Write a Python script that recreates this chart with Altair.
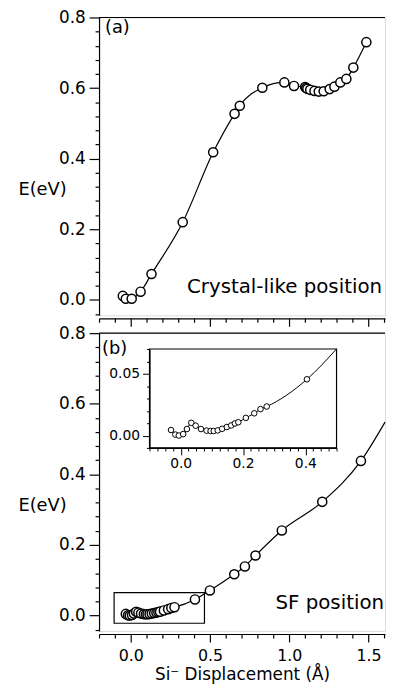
import altair as alt
import pandas as pd

FONT = "DejaVu Sans"

# ---------------- data ----------------
# panel (a): crystal-like position
a_x = [-0.050, -0.031, 0.006, 0.062, 0.131, 0.328, 0.520, 0.655, 0.688, 0.830, 0.969, 1.030,
       1.100, 1.107, 1.114, 1.132, 1.159, 1.186, 1.217, 1.255, 1.285, 1.322, 1.360, 1.404, 1.486]
a_y = [0.011, 0.003, 0.003, 0.023, 0.073, 0.220, 0.418, 0.527, 0.550, 0.601, 0.616, 0.606,
       0.603, 0.600, 0.598, 0.595, 0.592, 0.590, 0.591, 0.597, 0.604, 0.616, 0.626, 0.658, 0.730]

# panel (b): SF position
b_x = [-0.031, -0.017, -0.006, 0.008, 0.020, 0.034, 0.048, 0.065, 0.083, 0.096, 0.106, 0.119,
       0.133, 0.148, 0.162, 0.174, 0.185, 0.209, 0.236, 0.256, 0.276, 0.405, 0.499, 0.653,
       0.720, 0.787, 0.953, 1.208, 1.452]
b_y = [0.0045, 0.0008, 0.0000, 0.0012, 0.0053, 0.0103, 0.0080, 0.0053, 0.0040, 0.0037, 0.0037,
       0.0042, 0.0055, 0.0069, 0.0082, 0.0098, 0.0108, 0.0143, 0.0180, 0.0214, 0.0235, 0.0455,
       0.071, 0.117, 0.139, 0.170, 0.241, 0.322, 0.438]
# where the fitted curve in panel (b) leaves the visible area (line only, no marker)
b_curve_end_x = [1.604]
b_curve_end_y = [0.548]

# zoom frame in panel (b) and inset ranges
zoom_box_x = [-0.105, 0.465]
zoom_box_y = [-0.022, 0.065]
inset_x_domain = [-0.1, 0.5]
inset_y_domain = [-0.01, 0.07]

# axis ticks
x_ticks = [-0.2, -0.1, 0.0, 0.1, 0.2, 0.3, 0.4, 0.5, 0.6, 0.7, 0.8, 0.9, 1.0,
           1.1, 1.2, 1.3, 1.4, 1.5, 1.6]
y_ticks = [-0.04, 0.0, 0.04, 0.08, 0.12, 0.16, 0.2, 0.24, 0.28, 0.32, 0.36, 0.4,
           0.44, 0.48, 0.52, 0.56, 0.6, 0.64, 0.68, 0.72, 0.76, 0.8]
inset_x_ticks = [-0.1, -0.075, -0.05, -0.025, 0.0, 0.025, 0.05, 0.075, 0.1, 0.125, 0.15,
                 0.175, 0.2, 0.225, 0.25, 0.275, 0.3, 0.325, 0.35, 0.375, 0.4, 0.425,
                 0.45, 0.475, 0.5]
inset_y_ticks = [-0.01, 0.0, 0.01, 0.02, 0.03, 0.04, 0.05, 0.06, 0.07]

X_DOMAIN = [-0.2, 1.604]
Y_DOMAIN = [-0.044, 0.8]
W, H = 289, 301
INSET_X_RANGE = [51, 240]
INSET_Y_RANGE = [116, 16]


def is_major(mult):
    return f"abs(datum.value*{mult} - round(datum.value*{mult})) < 0.001"


def x_axis(show_labels):
    kw = dict(
        values=x_ticks, tickCount=len(x_ticks) + 5, orient="bottom", offset=3, grid=False,
        domainColor="black", domainWidth=1.2, tickColor="black", tickWidth=1.2,
        tickSize={"condition": {"test": is_major(2), "value": 8}, "value": 4},
        labelOverlap=False, labelFlush=False,
    )
    if show_labels:
        kw.update(
            labels=True,
            labelExpr=f"{is_major(2)} ? format(datum.value, '.1f') : ''",
            labelFont=FONT, labelFontSize=16, labelColor="black", labelPadding=6,
            title="Si⁻ Displacement (Å)", titleFont=FONT, titleFontSize=17,
            titleFontWeight="normal", titleColor="black", titlePadding=3,
        )
    else:
        kw.update(labels=False, title=None)
    return alt.Axis(**kw)


y_axis = alt.Axis(
    values=y_ticks, tickCount=len(y_ticks) + 5, orient="left", grid=False,
    domainColor="black", domainWidth=1.2, tickColor="black", tickWidth=1.2,
    tickSize={"condition": {"test": is_major(5), "value": 10}, "value": 4},
    labelExpr=f"{is_major(5)} ? format(datum.value, '.1f') : ''",
    labelFont=FONT, labelFontSize=17, labelColor="black", labelPadding=4,
    labelOverlap=False, labelFlush=False,
    title="E(eV)", titleFont=FONT, titleFontSize=18, titleFontWeight="normal",
    titleColor="black", titleAngle=0, titleAlign="left", titleBaseline="middle",
    titleX=-82, titleY=174,
)

x_scale = alt.Scale(domain=X_DOMAIN, nice=False, zero=False)
y_scale = alt.Scale(domain=Y_DOMAIN, nice=False, zero=False)

one_row = pd.DataFrame({"k": [0]})


def top_border():
    return alt.Chart(one_row).mark_rule(color="black", strokeWidth=1.2).encode(
        x=alt.value(0), x2=alt.value(W), y=alt.value(0)
    )


def label(text, x, y, size, align="left"):
    return alt.Chart(pd.DataFrame({"t": [text]})).mark_text(
        align=align, baseline="alphabetic", font=FONT, fontSize=size, color="black"
    ).encode(x=alt.value(x), y=alt.value(y), text="t:N")


# ---------------- panel (a) ----------------
df_a = pd.DataFrame({"x": a_x, "y": a_y})
line_a = alt.Chart(df_a).mark_line(color="black", strokeWidth=1.2, interpolate="monotone").encode(
    x=alt.X("x:Q", scale=x_scale, axis=x_axis(False)),
    y=alt.Y("y:Q", scale=y_scale, axis=y_axis),
)
pts_a = alt.Chart(df_a).mark_circle(
    fill="white", stroke="black", strokeWidth=1.5, size=85, opacity=1
).encode(x=alt.X("x:Q", scale=x_scale), y=alt.Y("y:Q", scale=y_scale))

panel_a = alt.layer(
    line_a, pts_a, top_border(),
    label("(a)", 6, 16, 18),
    label("Crystal-like position", 286, 278, 20, align="right"),
).properties(width=W, height=H)

# ---------------- panel (b) ----------------
df_b = pd.DataFrame({"x": b_x, "y": b_y})
df_b_line = pd.DataFrame({"x": b_x + b_curve_end_x, "y": b_y + b_curve_end_y})
line_b = alt.Chart(df_b_line).mark_line(color="black", strokeWidth=1.2, interpolate="monotone").encode(
    x=alt.X("x:Q", scale=x_scale, axis=x_axis(True)),
    y=alt.Y("y:Q", scale=y_scale, axis=y_axis),
)
pts_b = alt.Chart(df_b).mark_circle(
    fill="white", stroke="black", strokeWidth=1.5, size=85, opacity=1
).encode(x=alt.X("x:Q", scale=x_scale), y=alt.Y("y:Q", scale=y_scale))

zoom_df = pd.DataFrame({"x1": [zoom_box_x[0]], "x2": [zoom_box_x[1]],
                        "y1": [zoom_box_y[0]], "y2": [zoom_box_y[1]]})
zoom_rect = alt.Chart(zoom_df).mark_rect(fillOpacity=0, stroke="black", strokeWidth=1.2).encode(
    x=alt.X("x1:Q", scale=x_scale), x2="x2:Q",
    y=alt.Y("y1:Q", scale=y_scale), y2="y2:Q",
)

main_b = alt.layer(
    line_b, pts_b, zoom_rect, top_border(),
    label("(b)", 3, 21, 18),
    label("SF position", 288, 279, 20, align="right"),
)

# inset
ix_scale = alt.Scale(domain=inset_x_domain, range=INSET_X_RANGE, nice=False, zero=False)
iy_scale = alt.Scale(domain=inset_y_domain, range=INSET_Y_RANGE, nice=False, zero=False)

ix_axis = alt.Axis(
    values=inset_x_ticks, tickCount=len(inset_x_ticks) + 5, orient="bottom",
    offset=-(H - INSET_Y_RANGE[0]), grid=False, zindex=1,
    domainColor="black", domainWidth=1.2, tickColor="black", tickWidth=1,
    tickSize={"condition": {"test": is_major(5), "value": 7}, "value": 3},
    labelExpr=f"{is_major(5)} ? format(datum.value, '.1f') : ''",
    labelFont=FONT, labelFontSize=14, labelColor="black", labelPadding=2,
    labelOverlap=False, labelFlush=False, title=None,
)
iy_axis = alt.Axis(
    values=inset_y_ticks, tickCount=len(inset_y_ticks) + 5, orient="left",
    offset=-INSET_X_RANGE[0], grid=False, zindex=1,
    domainColor="black", domainWidth=1.2, tickColor="black", tickWidth=1,
    tickSize={"condition": {"test": is_major(20), "value": 7}, "value": 3},
    labelExpr=f"{is_major(20)} ? format(datum.value, '.2f') : ''",
    labelFont=FONT, labelFontSize=14, labelColor="black", labelPadding=3,
    labelOverlap=False, labelFlush=False, title=None,
)

inset_df = pd.DataFrame({"x1": [inset_x_domain[0]], "x2": [inset_x_domain[1]],
                         "y1": [inset_y_domain[0]], "y2": [inset_y_domain[1]]})
inset_bg = alt.Chart(inset_df).mark_rect(fill="white", stroke="black", strokeWidth=1.2).encode(
    x=alt.X("x1:Q", scale=ix_scale, axis=ix_axis), x2="x2:Q",
    y=alt.Y("y1:Q", scale=iy_scale, axis=iy_axis), y2="y2:Q",
)
in_x = [v for v in b_x if v < 0.45]
in_y = b_y[:len(in_x)]
inset_line_df = pd.DataFrame({"x": in_x + [inset_x_domain[1]], "y": in_y + [inset_y_domain[1]]})
inset_line = alt.Chart(inset_line_df).mark_line(color="black", strokeWidth=1, interpolate="monotone").encode(
    x=alt.X("x:Q", scale=ix_scale), y=alt.Y("y:Q", scale=iy_scale)
)
inset_pts = alt.Chart(pd.DataFrame({"x": in_x, "y": in_y})).mark_circle(
    fill="white", stroke="black", strokeWidth=1, size=32, opacity=1
).encode(x=alt.X("x:Q", scale=ix_scale), y=alt.Y("y:Q", scale=iy_scale))

inset = alt.layer(inset_bg, inset_line, inset_pts)

panel_b = alt.layer(main_b, inset).resolve_scale(x="independent", y="independent").properties(
    width=W, height=H
)

chart = alt.vconcat(panel_a, panel_b, spacing=18, bounds="flush").properties(
    padding={"left": 9, "top": -4, "right": 0, "bottom": 0}
).configure_view(strokeWidth=0).configure(font=FONT)

chart.save("out.html", embed_options={"renderer": "svg", "actions": False})
